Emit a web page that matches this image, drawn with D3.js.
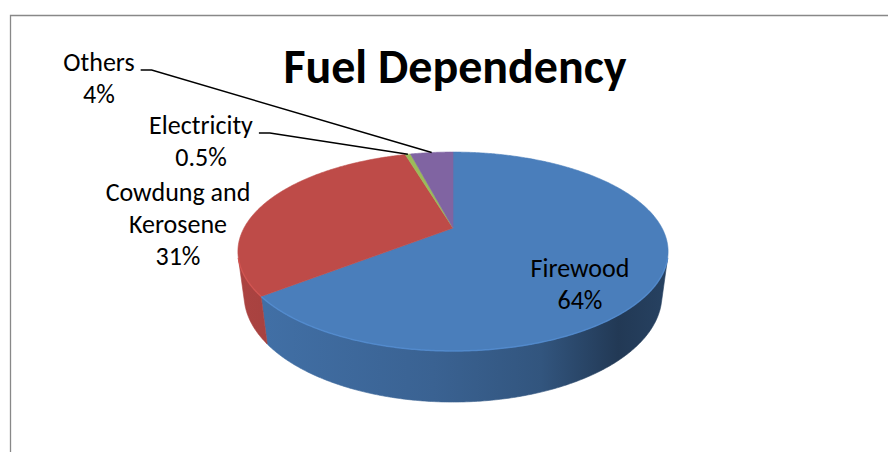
<!DOCTYPE html>
<html>
<head>
<meta charset="utf-8">
<script src="https://cdn.jsdelivr.net/npm/d3@7"></script>
<style>
  body { margin: 0; background: #fff; }
  text { font-family: Carlito, Calibri, Lato, sans-serif; fill: #000; }
</style>
</head>
<body>
<div id="canvas"></div>
<script>
// data
const categories = ["Firewood", "Cowdung and Kerosene", "Electricity", "Others"];
const values = [64, 31, 0.5, 4];
const labelNames = [["Firewood"], ["Cowdung and", "Kerosene"], ["Electricity"], ["Others"]];
const title = "Fuel Dependency";

const width = 888;
const height = 452;

const color = d3.scaleOrdinal()
    .domain(categories)
    .range(["#4a7ebb", "#be4b48", "#9bbb59", "#8064a2"]);

// label placement (centre x, first baseline), leaders only for the small slices
const labelPos = {
    "Firewood": { x: 580, y: 277, leader: false },
    "Cowdung and Kerosene": { x: 178, y: 201, leader: false },
    "Electricity": { x: 201, y: 134, leader: true },
    "Others": { x: 99, y: 71, leader: true }
};

// 3d pie camera
const cx = 453, cy = 228;
const F = 790, D = 3.78, tilt = 26.7 * Math.PI / 180, thick = 0.235;

function project(theta, r, h) {
    const X = r * Math.sin(theta), Z = r * Math.cos(theta);
    const w = D + Z * Math.cos(tilt) - h * Math.sin(tilt);
    return [cx + F * X / w, cy - F * (h * Math.cos(tilt) + Z * Math.sin(tilt)) / w];
}

const svg = d3.select("#canvas").append("svg")
    .attr("width", width)
    .attr("height", height);

// chart frame
svg.append("path")
    .attr("d", `M10.5,${height}V15.5H${width}`)
    .attr("fill", "none")
    .attr("stroke", "#888")
    .attr("stroke-width", 1.3);

svg.append("text")
    .attr("x", 455)
    .attr("y", 83)
    .attr("text-anchor", "middle")
    .style("font-size", "48px")
    .style("font-weight", "bold")
    .text(title);

const pie = d3.pie().sort(null).value(d => d.value);
const arcs = pie(categories.map((c, i) => ({ name: c, value: values[i] })));

const line = d3.line();
const step = Math.PI / 360;

function samples(a0, a1) {
    const n = Math.max(2, Math.ceil((a1 - a0) / step));
    return d3.range(n + 1).map(i => a0 + (a1 - a0) * i / n);
}

// side walls, only the part facing the camera
const tAng = Math.acos(-1 / (D * Math.cos(tilt)));
const defs = svg.append("defs");
const walls = svg.append("g");

arcs.forEach((d, i) => {
    const a0 = Math.max(d.startAngle, tAng);
    const a1 = Math.min(d.endAngle, 2 * Math.PI - tAng);
    if (a1 <= a0) return;
    const base = d3.color(color(d.data.name));
    const grad = defs.append("linearGradient")
        .attr("id", "side" + i)
        .attr("gradientUnits", "userSpaceOnUse")
        .attr("x1", 240).attr("x2", 670).attr("y1", 0).attr("y2", 0);
    grad.append("stop").attr("offset", 0).attr("stop-color", base.darker(0.3));
    grad.append("stop").attr("offset", 0.45).attr("stop-color", base.darker(0.7));
    grad.append("stop").attr("offset", 0.7).attr("stop-color", base.darker(1.1));
    grad.append("stop").attr("offset", 0.88).attr("stop-color", base.darker(2.2));
    grad.append("stop").attr("offset", 1).attr("stop-color", base.darker(1.8));
    const ang = samples(a0, a1);
    const pts = ang.map(a => project(a, 1, 0))
        .concat(ang.slice().reverse().map(a => project(a, 1, -thick)));
    walls.append("path")
        .attr("d", line(pts) + "Z")
        .attr("fill", `url(#side${i})`)
        .attr("stroke", `url(#side${i})`)
        .attr("stroke-width", 0.6);
});

// top face
const topFace = svg.append("g");
arcs.forEach(d => {
    const pts = [project(0, 0, 0)]
        .concat(samples(d.startAngle, d.endAngle).map(a => project(a, 1, 0)));
    topFace.append("path")
        .attr("d", line(pts) + "Z")
        .attr("fill", color(d.data.name))
        .attr("stroke", color(d.data.name))
        .attr("stroke-width", 0.6);
});

// soft highlight on the front rim
arcs.forEach(d => {
    const a0 = Math.max(d.startAngle, tAng);
    const a1 = Math.min(d.endAngle, 2 * Math.PI - tAng);
    if (a1 <= a0) return;
    topFace.append("path")
        .attr("d", line(samples(a0, a1).map(a => project(a, 1, 0))))
        .attr("fill", "none")
        .attr("stroke", d3.color(color(d.data.name)).brighter(0.35))
        .attr("stroke-width", 1.5)
        .attr("opacity", 0.7);
});

// data labels
const labels = svg.append("g");
arcs.forEach((d, i) => {
    const pos = labelPos[d.data.name];
    const lines = labelNames[i].concat([`${values[i]}%`]);
    const t = labels.append("text")
        .attr("text-anchor", "middle")
        .style("font-size", "26px");
    lines.forEach((s, k) => {
        t.append("tspan").attr("x", pos.x).attr("y", pos.y + k * 32).text(s);
    });
    if (pos.leader) {
        const first = t.select("tspan").node().getComputedTextLength();
        const x0 = pos.x + first / 2 + 6;
        const y0 = pos.y - 1;
        const end = project((d.startAngle + d.endAngle) / 2, 1, 0);
        labels.append("path")
            .attr("d", line([[x0, y0], [x0 + 11, y0], end]))
            .attr("fill", "none")
            .attr("stroke", "#000")
            .attr("stroke-width", 1.4);
    }
});
</script>
</body>
</html>
